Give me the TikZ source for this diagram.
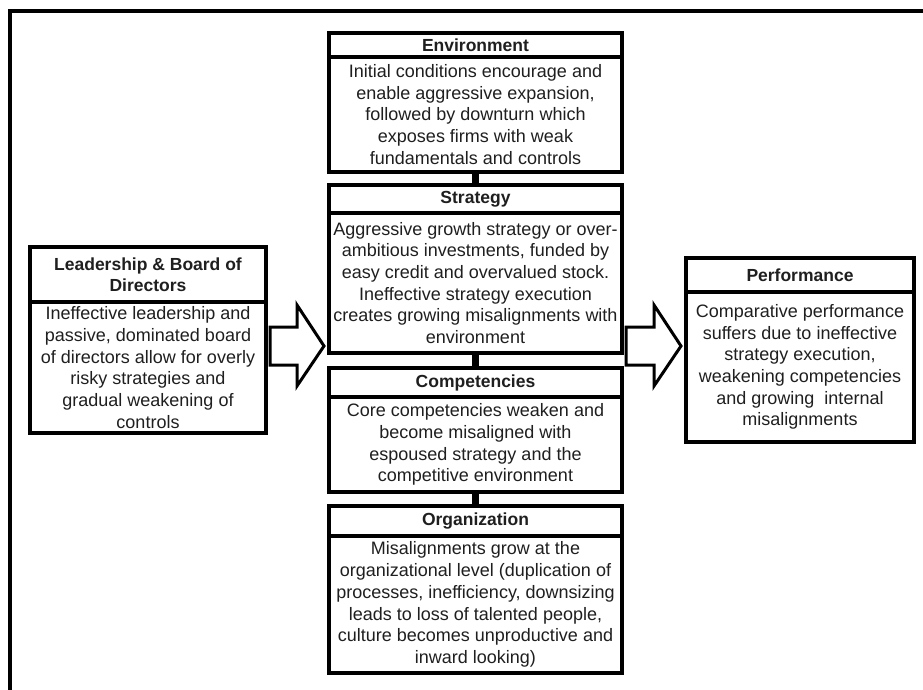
\documentclass[tikz,border=0pt]{standalone}
\usepackage{fontspec}
\setmainfont{Liberation Sans}
\begin{document}
\begin{tikzpicture}[x=1pt,y=-1pt,
  boxpart/.style={draw=black, line width=3.3pt, fill=white, inner sep=0pt,
    outer sep=0pt, anchor=north west, align=center, text=black!88},
  headpart/.style={boxpart, font=\fontsize{17.5}{21}\selectfont\bfseries},
  bodypart/.style={boxpart, font=\fontsize{18}{21.7}\selectfont},
  link/.style={line width=7pt, draw=black},
  blockarrow/.style={draw=black, line width=3pt, fill=white, line join=miter},
  frameline/.style={draw=black, line width=3.5pt}
]
\useasboundingbox (0,0) rectangle (923,690);

% outer frame (top and left edges)
\coordinate (frTR) at (923,11);
\coordinate (frTL) at (10,11);
\coordinate (frBL) at (10,690);
\draw[frameline] (frTR) -- (frTL) -- (frBL);

% central column
\node[headpart, minimum width=293pt, minimum height=24pt] (envH) at (329,33) {Environment};
\node[bodypart, minimum width=293pt, minimum height=115pt] (envB) at (envH.south west)
  {Initial conditions encourage and\\enable aggressive expansion,\\followed by downturn which\\exposes firms with weak\\fundamentals and controls};

\node[headpart, minimum width=293pt, minimum height=28pt] (strH) at (329,185) {Strategy};
\node[bodypart, minimum width=293pt, minimum height=140pt] (strB) at (strH.south west)
  {Aggressive growth strategy or over-\\ambitious investments, funded by\\easy credit and overvalued stock.\\Ineffective strategy execution\\creates growing misalignments with\\environment};

\node[headpart, minimum width=293pt, minimum height=29pt] (cmpH) at (329,368) {Competencies};
\node[bodypart, minimum width=293pt, minimum height=95pt] (cmpB) at (cmpH.south west)
  {Core competencies weaken and\\become misaligned with\\espoused strategy and the\\competitive environment};

\node[headpart, minimum width=293pt, minimum height=30pt] (orgH) at (329,506) {Organization};
\node[bodypart, minimum width=293pt, minimum height=137pt] (orgB) at (orgH.south west)
  {Misalignments grow at the\\organizational level (duplication of\\processes, inefficiency, downsizing\\leads to loss of talented people,\\culture becomes unproductive and\\inward looking)};

% left box
\node[headpart, minimum width=236pt, minimum height=55pt] (ldrH) at (30,247)
  {Leadership \& Board of\\Directors};
\node[bodypart, minimum width=236pt, minimum height=131pt] (ldrB) at (ldrH.south west)
  {Ineffective leadership and\\passive, dominated board\\of directors allow for overly\\risky strategies and\\gradual weakening of\\controls};

% right box
\node[headpart, minimum width=228pt, minimum height=34pt] (perfH) at (686,258) {Performance};
\node[bodypart, minimum width=228pt, minimum height=150pt] (perfB) at (perfH.south west)
  {Comparative performance\\suffers due to ineffective\\strategy execution,\\weakening competencies\\and growing\ \ internal\\misalignments};

% vertical links in the column
\draw[link] (envB.south) -- (strH.north);
\draw[link] (strB.south) -- (cmpH.north);
\draw[link] (cmpB.south) -- (orgH.north);

% block arrows
\draw[blockarrow] (270,327) -- (297,327) -- (297,305) -- (324,346)
  -- (297,386) -- (297,365) -- (270,365) -- cycle;
\draw[blockarrow] (626,327) -- (654,327) -- (654,305) -- (681,346)
  -- (654,386) -- (654,365) -- (626,365) -- cycle;
\end{tikzpicture}
\end{document}
